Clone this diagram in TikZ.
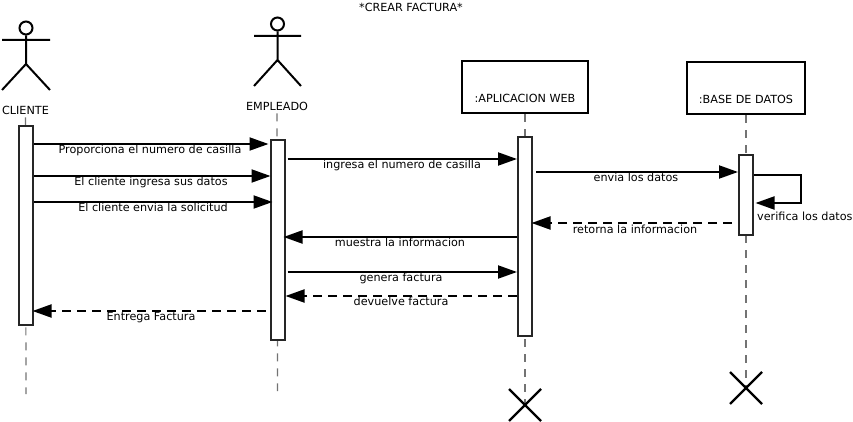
\documentclass[tikz,border=0pt]{standalone}
\usepackage{fontspec}
\setmainfont{DejaVu Sans}
\usetikzlibrary{arrows.meta}
\tikzset{
  lbl/.style={font=\fontsize{11.2}{13}\selectfont,inner sep=0pt,text=black,text height=9pt,text depth=2.5pt,yshift=-0.5pt},
  actorline/.style={line width=2pt,black},
  objbox/.style={draw=black,line width=2.2pt,fill=white,inner sep=0pt,minimum width=#1,minimum height=52pt},
  actbox/.style={draw=black!85,line width=2pt,fill=white,inner sep=0pt,minimum width=14pt,minimum height=#1},
  life/.style={draw=black!55,line width=1.2pt,dash pattern=on 8pt off 7pt},
  msg/.style={draw=black,line width=2pt,-{Triangle[length=19pt,width=13pt]}},
  ret/.style={msg,dash pattern=on 9pt off 6pt},
  killx/.style={line width=2.2pt,black}
}
\begin{document}
\begin{tikzpicture}[x=1pt,y=-1pt]
\useasboundingbox (0,0) rectangle (853,422);
\node[lbl] (title) at (411,8) {*CREAR FACTURA*};

% objects and labels
\node[lbl] (cliente) at (25.5,111) {CLIENTE};
\node[lbl] (empleado) at (277,107) {EMPLEADO};
\node[objbox=126pt] (app) at (525,87) {};
\node[lbl] (applbl) at (525,99) {:APLICACION WEB};
\node[objbox=118pt] (db) at (746,88) {};
\node[lbl] (dblbl) at (746,100) {:BASE DE DATOS};

% end coordinates of the lifelines
\coordinate (endc) at (26,394);
\coordinate (ende) at (277.5,391);
\coordinate (xa) at (525,405);
\coordinate (xd) at (746,388);

% lifelines
\draw[life] (cliente.south) -- (endc);
\draw[life] (empleado.south) -- (ende);
\draw[life] (app.south) -- (xa);
\draw[life] (db.south) -- (xd);

% activations
\node[actbox=199pt] (ac) at (26,225.5) {};
\node[actbox=199.5pt] (ae) at (277.5,239.75) {};
\node[actbox=199pt] (aa) at (525,236.5) {};
\node[actbox=80pt] (ad) at (746,195) {};

% actors
\node[circle,draw=black,line width=2pt,minimum size=13pt,inner sep=0pt] (h1) at (26,28) {};
\coordinate (hip1) at (26,64);
\coordinate (al1) at (2,40); \coordinate (ar1) at (50,40);
\coordinate (ll1) at (2,90); \coordinate (lr1) at (50,90);
\draw[actorline] (h1.south) -- (hip1) (al1) -- (ar1) (ll1) -- (hip1) -- (lr1);
\node[circle,draw=black,line width=2pt,minimum size=13pt,inner sep=0pt] (h2) at (277.5,24) {};
\coordinate (hip2) at (277.5,60);
\coordinate (al2) at (254,36); \coordinate (ar2) at (301,36);
\coordinate (ll2) at (254,86); \coordinate (lr2) at (301,86);
\draw[actorline] (h2.south) -- (hip2) (al2) -- (ar2) (ll2) -- (hip2) -- (lr2);

% messages
\draw[msg,shorten >=1pt] (ac.east |- 0,144) -- (ae.west |- 0,144);
\node[lbl] (m1) at (150,150) {Proporciona el numero de casilla};
\draw[msg,shorten >=-1pt] (ac.east |- 0,176) -- (ae.west |- 0,176);
\node[lbl] (m2) at (151,182) {El cliente ingresa sus datos};
\draw[msg,shorten >=-3pt] (ac.east |- 0,202) -- (ae.west |- 0,202);
\node[lbl] (m3) at (153,208) {El cliente envia la solicitud};
\draw[msg,shorten <=2pt] (ae.east |- 0,159) -- (aa.west |- 0,159);
\node[lbl] (m4) at (402,165) {ingresa el numero de casilla};
\draw[msg,shorten <=3pt] (aa.east |- 0,172) -- (ad.west |- 0,172);
\node[lbl] (m5) at (636,178) {envia los datos};
\draw[msg,shorten >=1.5pt] (ad.east |- 0,175) -| (801,203) -- (ad.east |- 0,203);
\node[lbl,anchor=west] (m6) at (757,217) {verifica los datos};
\draw[ret,shorten <=6pt,shorten >=-1.5pt] (ad.west |- 0,223) -- (aa.east |- 0,223);
\node[lbl] (m7) at (635,230) {retorna la informacion};
\draw[msg,shorten >=-2pt] (aa.west |- 0,237) -- (ae.east |- 0,237);
\node[lbl] (m8) at (400,243) {muestra la informacion};
\draw[msg,shorten <=2pt] (ae.east |- 0,272) -- (aa.west |- 0,272);
\node[lbl] (m9) at (401,278) {genera factura};
\draw[ret] (aa.west |- 0,296) -- (ae.east |- 0,296);
\node[lbl] (m10) at (401,302) {devuelve factura};
\draw[ret,shorten <=4pt,shorten >=-1.5pt] (ae.west |- 0,311) -- (ac.east |- 0,311);
\node[lbl] (m11) at (151,317) {Entrega Factura};

% destruction marks
\draw[killx] ([shift={(-16,-16)}]xa) -- ([shift={(16,16)}]xa) ([shift={(-16,16)}]xa) -- ([shift={(16,-16)}]xa);
\draw[killx] ([shift={(-16,-16)}]xd) -- ([shift={(16,16)}]xd) ([shift={(-16,16)}]xd) -- ([shift={(16,-16)}]xd);
\end{tikzpicture}
\end{document}
